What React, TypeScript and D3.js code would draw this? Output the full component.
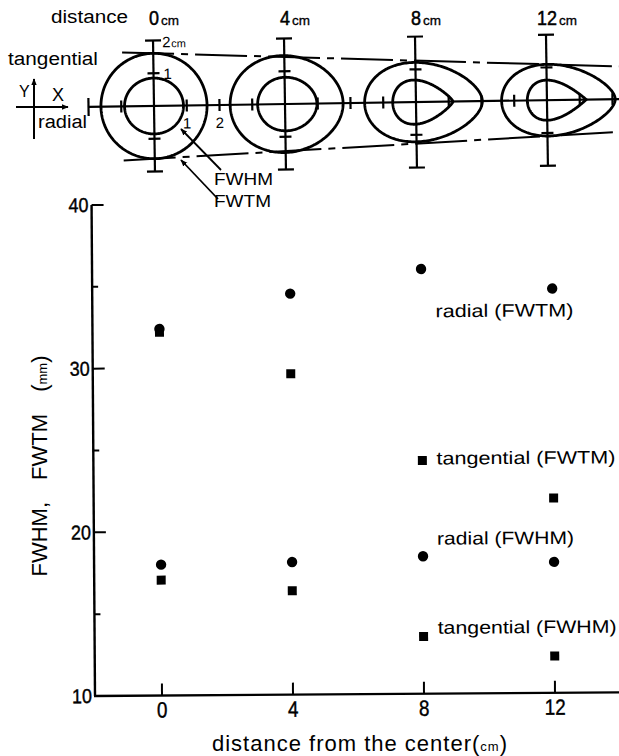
import React from "react";
import * as d3 from "d3";

// ---- data ----
const distances = [0, 4, 8, 12];
const radialFWTM = [32.4, 34.5, 35.95, 34.7];
const tangentialFWTM = [32.2, 29.6, 24.25, 21.9];
const radialFWHM = [18.0, 18.1, 18.4, 18.0];
const tangentialFWHM = [17.05, 16.35, 13.5, 12.25];
const xTicks = [0, 4, 8, 12];
const xTickLabels = ["0", "4", "8", "12"];
const yTicksMajor = [10, 20, 30, 40];
const yTickLabels = ["10", "20", "30", "40"];
const yTicksMinor = [15, 25, 35];
const seriesLabels = ["radial (FWTM)", "tangential (FWTM)", "radial (FWHM)", "tangential (FWHM)"];
const stationLabels = ["0", "4", "8", "12"];
// contour shape descriptors (horizontal shift of centre in cm, tip sharpness 0..1)
const innerShift = [0, 0.07, 0.21, 0.3];
const outerShift = [0, 0.05, 0.23, 0.35];
const innerTip = [0, 0.15, 0.85, 1.0];
const outerTip = [0, 0.15, 0.4, 0.5];

const FONT = "'Liberation Sans', Arial, Helvetica, sans-serif";

function contourPath(cx: number, cy: number, wPx: number, hPx: number, e: number) {
  const n = 240;
  const raw: [number, number][] = d3.range(n).map((i) => {
    const t = (2 * Math.PI * i) / n;
    return [Math.cos(t), -Math.sin(t) * (1 - e + e * Math.sin(t / 2))];
  });
  const ys = raw.map((p) => p[1]);
  const y0 = d3.min(ys) as number;
  const y1 = d3.max(ys) as number;
  const sy = hPx / (y1 - y0);
  const ym = (y0 + y1) / 2;
  return d3.line().curve(d3.curveLinearClosed)(
    raw.map(([a, b]) => [cx + (a * wPx) / 2, cy + (b - ym) * sy] as [number, number])
  ) as string;
}

export default function App() {
  const W = 619;
  const H = 756;

  // ---- plot scales ----
  const x = d3.scaleLinear().domain([-2, 14]).range([96.5, 620.5]);
  const y = d3.scaleLinear().domain([10, 40]).range([696, 205]);
  const axisX = 95;

  // ---- diagram scale ----
  const dx = d3.scaleLinear().domain([0, 12]).range([154, 547]);
  const pxPerCm = (dx(12) - dx(0)) / 12;
  const mm = (v: number) => (v / 10) * pxPerCm;
  const cy = 106;

  const stations = distances.map((d, i) => ({
    d,
    cx: dx(d),
    inner: contourPath(dx(d) + innerShift[i] * pxPerCm, cy, mm(radialFWHM[i]), mm(tangentialFWHM[i]), innerTip[i]),
    outer: contourPath(dx(d) + outerShift[i] * pxPerCm, cy, mm(radialFWTM[i]), mm(tangentialFWTM[i]), outerTip[i]),
  }));

  // tangent envelope lines (upper / lower)
  const top0 = cy - mm(tangentialFWTM[0]) / 2;
  const top12 = cy - mm(tangentialFWTM[3]) / 2;
  const bot0 = cy + mm(tangentialFWTM[0]) / 2;
  const bot12 = cy + mm(tangentialFWTM[3]) / 2;
  const lineAt = (xa: number, ya: number, xb: number, yb: number, xv: number) => ya + ((yb - ya) * (xv - xa)) / (xb - xa);
  const envStart = dx(-0.95);
  const envEnd = 640;

  const points = [
    { vals: radialFWTM, shape: "circle" },
    { vals: tangentialFWTM, shape: "square" },
    { vals: radialFWHM, shape: "circle" },
    { vals: tangentialFWHM, shape: "square" },
  ];
  const labelPos = [33.0, 24.0, 19.1, 13.65];
  const labelWidths = [138, 179, 137, 179];

  const sw = 2.2;

  return (
    <svg width={W} height={H} style={{ position: "absolute", left: 0, top: 0, background: "#fff" }} fontFamily={FONT} fill="#000">
      <defs>
        <marker id="ah" viewBox="0 0 10 10" refX="9" refY="5" markerWidth="7" markerHeight="7" orient="auto-start-reverse" markerUnits="userSpaceOnUse">
          <path d="M0,1 L10,5 L0,9 z" fill="#000" />
        </marker>
      </defs>
      <rect x={0} y={0} width={W} height={H} fill="#fff" />

      {/* ---------- top diagram ---------- */}
      <text x={51} y={23} fontSize={18} textLength={77} lengthAdjust="spacingAndGlyphs">distance</text>
      {stations.map((s, i) => (
        <g key={"lab" + i}>
          <text x={s.cx} y={25} fontSize={20} textAnchor="middle" textLength={stationLabels[i].length * 10} lengthAdjust="spacingAndGlyphs" stroke="#000" strokeWidth={0.5}>{stationLabels[i]}</text>
          <text x={s.cx + stationLabels[i].length * 5 + 2} y={25} fontSize={13} textLength={18} lengthAdjust="spacingAndGlyphs" stroke="#000" strokeWidth={0.3}>cm</text>
        </g>
      ))}

      <text x={8} y={65} fontSize={18} textLength={90} lengthAdjust="spacingAndGlyphs">tangential</text>
      <text x={19} y={97} fontSize={16}>Y</text>
      <text x={52} y={101} fontSize={18}>X</text>
      <line x1={16} y1={107} x2={68} y2={107} stroke="#000" strokeWidth={2} markerEnd="url(#ah)" />
      <line x1={34} y1={139} x2={34} y2={79} stroke="#000" strokeWidth={2} markerEnd="url(#ah)" />
      <text x={38} y={128} fontSize={18} textLength={49} lengthAdjust="spacingAndGlyphs">radial</text>

      <g transform={`rotate(-0.85, ${dx(0)}, ${cy})`}>
        {/* horizontal axis */}
        <line x1={dx(-2)} y1={cy} x2={660} y2={cy} stroke="#000" strokeWidth={sw} />
        <line x1={dx(-2)} y1={cy - 9} x2={dx(-2)} y2={cy + 9} stroke="#000" strokeWidth={sw} />
        {[-1, 1, 2, 3, 5, 6, 7, 9, 10, 11, 13, 14].map((t) => (
          <line key={"ht" + t} x1={dx(t)} y1={cy - 6} x2={dx(t)} y2={cy + 6} stroke="#000" strokeWidth={sw} />
        ))}
        {stations.map((s, i) => (
          <g key={"st" + i}>
            <line x1={s.cx} y1={cy - 2 * pxPerCm} x2={s.cx} y2={cy + 2 * pxPerCm} stroke="#000" strokeWidth={sw} />
            {[-2, 2].map((k) => (
              <line key={k} x1={s.cx - 8} y1={cy + k * pxPerCm} x2={s.cx + 8} y2={cy + k * pxPerCm} stroke="#000" strokeWidth={sw} />
            ))}
            {[-1, 1].map((k) => (
              <line key={"m" + k} x1={s.cx - 6} y1={cy + k * pxPerCm} x2={s.cx + 6} y2={cy + k * pxPerCm} stroke="#000" strokeWidth={sw} />
            ))}
            <path d={s.outer} fill="none" stroke="#000" strokeWidth={2.8} />
            <path d={s.inner} fill="none" stroke="#000" strokeWidth={2.8} />
          </g>
        ))}
        {/* envelope dash-dot lines */}
        <line x1={envStart} y1={lineAt(dx(0), top0, dx(12), top12, envStart)} x2={envEnd} y2={lineAt(dx(0), top0, dx(12), top12, envEnd)}
          stroke="#000" strokeWidth={2} strokeDasharray="52 7 7 7" />
        <line x1={envStart} y1={lineAt(dx(0), bot0, dx(12), bot12, envStart)} x2={envEnd} y2={lineAt(dx(0), bot0, dx(12), bot12, envEnd)}
          stroke="#000" strokeWidth={2} strokeDasharray="52 7 7 7" />
        {/* scale labels */}
        <text x={dx(0) + 9} y={cy - 2 * pxPerCm + 7} fontSize={15} fill="#000">2</text>
        <text x={dx(0) + 18} y={cy - 2 * pxPerCm + 7} fontSize={11} fill="#000">cm</text>
        <text x={dx(0) + 10} y={cy - pxPerCm + 6} fontSize={15} fill="#000">1</text>
        <text x={dx(1)} y={cy + 23} fontSize={15} textAnchor="middle" fill="#000">1</text>
        <text x={dx(2)} y={cy + 23} fontSize={15} textAnchor="middle" fill="#000">2</text>
      </g>

      {/* FWHM / FWTM pointers */}
      <line x1={221} y1={170} x2={181} y2={129} stroke="#000" strokeWidth={1.8} markerEnd="url(#ah)" />
      <line x1={218} y1={199} x2={181} y2={160} stroke="#000" strokeWidth={1.8} markerEnd="url(#ah)" />
      <text x={214} y={185} fontSize={17} textLength={59} lengthAdjust="spacingAndGlyphs">FWHM</text>
      <text x={214} y={207} fontSize={17} textLength={57} lengthAdjust="spacingAndGlyphs">FWTM</text>

      {/* ---------- scatter plot ---------- */}
      <g transform={`rotate(-0.4, ${axisX}, ${y(10)})`}>
        <line x1={axisX} y1={y(40)} x2={axisX} y2={y(10)} stroke="#000" strokeWidth={2.4} />
        <line x1={axisX - 1} y1={y(10)} x2={640} y2={y(10)} stroke="#000" strokeWidth={2.4} />
        {yTicksMajor.slice(1).map((t) => (
          <line key={"ym" + t} x1={axisX} y1={y(t)} x2={axisX + 12} y2={y(t)} stroke="#000" strokeWidth={2} />
        ))}
        {yTicksMinor.map((t) => (
          <line key={"yn" + t} x1={axisX} y1={y(t)} x2={axisX + 6} y2={y(t)} stroke="#000" strokeWidth={2} />
        ))}
        {yTicksMajor.map((t, i) => (
          <text key={"yl" + t} x={axisX - 3} y={y(t) + 7} fontSize={20} textAnchor="end" textLength={20} lengthAdjust="spacingAndGlyphs" stroke="#000" strokeWidth={0.4}>{yTickLabels[i]}</text>
        ))}
        {xTicks.map((t, i) => (
          <g key={"xt" + t}>
            <line x1={x(t)} y1={y(10)} x2={x(t)} y2={y(10) - 12} stroke="#000" strokeWidth={2} />
            <text x={x(t)} y={y(10) + 22} fontSize={22} textAnchor="middle" textLength={xTickLabels[i].length * 10.5} lengthAdjust="spacingAndGlyphs" stroke="#000" strokeWidth={0.4}>{xTickLabels[i]}</text>
          </g>
        ))}
        {points.map((s, si) =>
          distances.map((d, i) =>
            s.shape === "circle" ? (
              <circle key={si + "-" + i} cx={x(d)} cy={y(s.vals[i])} r={5.2} fill="#000" />
            ) : (
              <rect key={si + "-" + i} x={x(d) - 4.5} y={y(s.vals[i]) - 4.5} width={9} height={9} fill="#000" />
            )
          )
        )}
        {seriesLabels.map((l, i) => (
          <text key={"sl" + i} x={x(8.43)} y={y(labelPos[i])} fontSize={18} textLength={labelWidths[i]} lengthAdjust="spacingAndGlyphs">{l}</text>
        ))}
      </g>

      <text transform="translate(47,466) rotate(-90)" fontSize={22} textAnchor="middle" wordSpacing={16}>
        FWHM, FWTM (<tspan fontSize={13}>mm</tspan>)
      </text>
      <text x={360} y={751} fontSize={22} textAnchor="middle" letterSpacing={1}>
        distance from the center(<tspan fontSize={13}>cm</tspan>)
      </text>
    </svg>
  );
}
